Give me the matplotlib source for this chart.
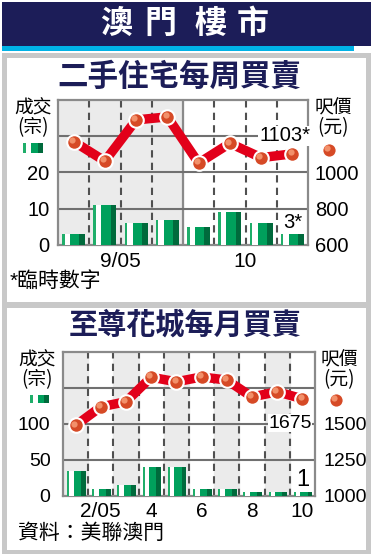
import matplotlib
matplotlib.use('Agg')
import matplotlib.pyplot as plt
import numpy as np
from matplotlib.patches import Rectangle
from matplotlib.lines import Line2D
from matplotlib.transforms import offset_copy

plt.rcParams['font.family'] = ['Liberation Sans', 'Noto Sans CJK TC', 'DejaVu Sans']

# 二手住宅每周買賣 (8 weeks, Sep-Oct 2005)
week_deals = [3, 11, 6, 7, 5, 9, 6, 3]
week_price = [1171, 1063, 1290, 1307, 1052, 1161, 1082, 1103]
week_ticks = [1.5, 5.5]
week_labels = ['9/05', '10']

# 至尊花城每月買賣 (Jan-Oct 2005)
month_deals = [35, 10, 15, 40, 40, 10, 10, 5, 5, 5]
month_price = [1490, 1619, 1655, 1825, 1793, 1827, 1805, 1688, 1724, 1675]
month_ticks = [1, 3, 5, 7, 9]
month_labels = ['2/05', '4', '6', '8', '10']

W, H = 374, 558
NAVY = '#1c1d58'
CYAN = '#00b2e6'
PANEL = '#c8c8c8'
SHADE = '#ebebeb'
GRID = '#707070'
DASH = '#505050'
RED = '#e2001a'
DOT = '#d64a26'
DOT_HI = '#f2906a'
LGREEN = '#1fae6a'
GREEN = '#00a05c'
DGREEN = '#006a3c'
CJK = ['Noto Sans CJK TC', 'DejaVu Sans']
NUM_NARROW = ['Liberation Sans Narrow', 'Liberation Sans']

fig = plt.figure(figsize=(W / 100, H / 100), dpi=100)


def box(x0, y0, x1, y1, color, z=-1):
    fig.add_artist(Rectangle((x0 / W, 1 - y1 / H), (x1 - x0) / W, (y1 - y0) / H,
                             transform=fig.transFigure, color=color, zorder=z, lw=0))


def axes_px(x0, y0, x1, y1):
    return fig.add_axes([x0 / W, 1 - y1 / H, (x1 - x0) / W, (y1 - y0) / H])


def ftext(x, y, s, **kw):
    fig.text(x / W, 1 - y / H, s, **kw)


def green_icon(x0, y0, w, h):
    box(x0, y0, x0 + w * 0.15, y0 + h, LGREEN, 2)
    box(x0 + w * 0.4, y0, x0 + w * 0.75, y0 + h, GREEN, 2)
    box(x0 + w * 0.75, y0, x0 + w, y0 + h, DGREEN, 2)


def dot_icon(x, y):
    fig.add_artist(Line2D([x / W], [1 - y / H], marker='o', ms=10, mfc=DOT, mec='white',
                          mew=1.2, transform=fig.transFigure, zorder=3))
    hi = offset_copy(fig.transFigure, fig=fig, x=-1.3, y=1.3, units='points')
    fig.add_artist(Line2D([x / W], [1 - y / H], marker='o', ms=4.5, mfc=DOT_HI, mec='none',
                          transform=hi, zorder=4))


def draw_bars(ax, vals, shift=0.0):
    x = np.arange(len(vals))
    ax.bar(x + shift, vals, width=0.74, color='white', zorder=3)
    ax.bar(x + shift - 0.33, vals, width=0.08, color=LGREEN, zorder=4)
    ax.bar(x + shift + 0.035, vals, width=0.29, color=GREEN, zorder=4)
    ax.bar(x + shift + 0.275, vals, width=0.19, color=DGREEN, zorder=4)


def draw_line(ax2, vals):
    x = np.arange(len(vals))
    ax2.plot(x, vals, color=RED, lw=6.8, zorder=5)
    ax2.plot(x, vals, 'o', ms=10.5, mfc=DOT, mec='white', mew=1.5, zorder=6)
    hi = offset_copy(ax2.transData, fig=fig, x=-1.3, y=1.3, units='points')
    ax2.plot(x, vals, 'o', ms=4.5, mfc=DOT_HI, mec='none', zorder=7, transform=hi)


def style(ax, ax2):
    for s in ax.spines.values():
        s.set_color('#8a8a8a')
        s.set_linewidth(1.6)
    for s in ax2.spines.values():
        s.set_visible(False)
    ax.tick_params(length=0)
    ax2.tick_params(length=0)
    ax2.set_zorder(ax.get_zorder() + 1)
    ax2.patch.set_visible(False)


# background frames
box(2, 2, 371, 46, NAVY)
box(2, 46, 354, 51, CYAN)
box(2, 53, 371, 554, PANEL)
box(7, 58, 366, 302, 'white')
box(7, 308, 366, 550, 'white')

for ch, cx in zip('澳門樓市', [116, 160, 210, 253]):
    ftext(cx, 24, ch, color='white', fontsize=23, fontweight='heavy', family=CJK,
          ha='center', va='center')

# ---------- top chart ----------
ftext(179, 77, '二手住宅每周買賣', color=NAVY, fontsize=22, fontweight='heavy',
      family=CJK, ha='center', va='center')

ax = axes_px(58, 100, 308, 245)
ax2 = ax.twinx()
n = len(week_deals)
ax.set_xlim(-0.5, n - 0.5)
ax.set_ylim(0, 40)
ax2.set_ylim(600, 1400)
ax.axvspan(-0.5, 3.5, color=SHADE, zorder=0)
for b in [0.5, 1.5, 2.5, 4.5, 5.5, 6.5]:
    ax.axvline(b, color=DASH, lw=1.5, ls=(0, (3.5, 2.5)), zorder=1)
ax.axvline(3.5, color='#8a8a8a', lw=1.6, zorder=1)
for g in [10, 20, 30]:
    ax.axhline(g, color=GRID, lw=1.5, zorder=1)
draw_bars(ax, week_deals)
draw_line(ax2, week_price)
ax.set_yticks([0, 10, 20])
ax.set_yticklabels(['0', '10', '20'], fontsize=14.5)
ax2.set_yticks([600, 800, 1000])
ax2.set_yticklabels(['600', '800', '1000'], fontsize=14.5)
ax.set_xticks(week_ticks)
ax.set_xticklabels(week_labels, fontsize=15)
style(ax, ax2)
ax.tick_params(axis='y', pad=6)
ax2.tick_params(axis='y', pad=5)
ax.tick_params(axis='x', pad=5)
ax2.text(n - 1 - 0.25, week_price[-1] + 100, f'{week_price[-1]}*', fontsize=14.5,
         ha='center', va='center', zorder=8,
         bbox=dict(facecolor='white', edgecolor='none', pad=0.5))
ax.text(n - 1, 6.3, f'{week_deals[-1]}*', fontsize=14.5, ha='center', va='center', zorder=8)

ftext(33, 108, '成交', fontsize=13.5, family=CJK, ha='center', va='center')
ftext(33, 128, '(宗)', fontsize=13.5, family=CJK, ha='center', va='center')
green_icon(23, 143, 20, 10)
ftext(333, 108, '呎價', fontsize=13.5, family=CJK, ha='center', va='center')
ftext(333, 128, '(元)', fontsize=13.5, family=CJK, ha='center', va='center')
dot_icon(329, 150)
ftext(10, 281, '*臨時數字', fontsize=15, family=['Liberation Sans'] + CJK,
      ha='left', va='center')

# ---------- bottom chart ----------
ftext(185, 325, '至尊花城每月買賣', color=NAVY, fontsize=21, fontweight='heavy',
      family=CJK, ha='center', va='center')

bx = axes_px(63, 352, 315, 496)
bx2 = bx.twinx()
m = len(month_deals)
bx.set_xlim(-0.5, m - 0.5)
bx.set_ylim(0, 200)
bx2.set_ylim(1000, 2000)
for i in range(0, m, 2):
    bx.axvspan(i - 0.5, i + 0.5, color=SHADE, zorder=0)
for b in np.arange(0.5, m - 0.5, 1):
    bx.axvline(b, color=DASH, lw=1.5, ls=(0, (3.5, 2.5)), zorder=1)
for g in [50, 100, 150]:
    bx.axhline(g, color=GRID, lw=1.5, zorder=1)
draw_bars(bx, month_deals, shift=0.03)
draw_line(bx2, month_price)
bx.set_yticks([0, 50, 100])
bx.set_yticklabels(['0', '50', '100'], fontsize=14, family=NUM_NARROW)
bx2.set_yticks([1000, 1250, 1500])
bx2.set_yticklabels(['1000', '1250', '1500'], fontsize=14, family=NUM_NARROW)
bx.set_xticks(month_ticks)
bx.set_xticklabels(month_labels, fontsize=15)
style(bx, bx2)
bx.tick_params(axis='y', pad=9)
bx2.tick_params(axis='y', pad=6)
bx.tick_params(axis='x', pad=4)
bx2.text(m - 1 - 0.5, 1505, f'{month_price[-1]}', fontsize=14, ha='center', va='center',
         zorder=8, family=NUM_NARROW,
         bbox=dict(facecolor='white', edgecolor='none', pad=0.3))
bx.text(m - 1, 22, '1', fontsize=17, ha='center', va='center', zorder=8)

ftext(37, 360, '成交', fontsize=13.5, family=CJK, ha='center', va='center')
ftext(37, 380, '(宗)', fontsize=13.5, family=CJK, ha='center', va='center')
green_icon(30, 395, 19, 8)
ftext(339, 360, '呎價', fontsize=13.5, family=CJK, ha='center', va='center')
ftext(339, 380, '(元)', fontsize=13.5, family=CJK, ha='center', va='center')
dot_icon(336, 400)
ftext(18, 533, '資料：美聯澳門', fontsize=15, family=CJK, ha='left', va='center')

fig.savefig('out.png', dpi=100, facecolor='white')
